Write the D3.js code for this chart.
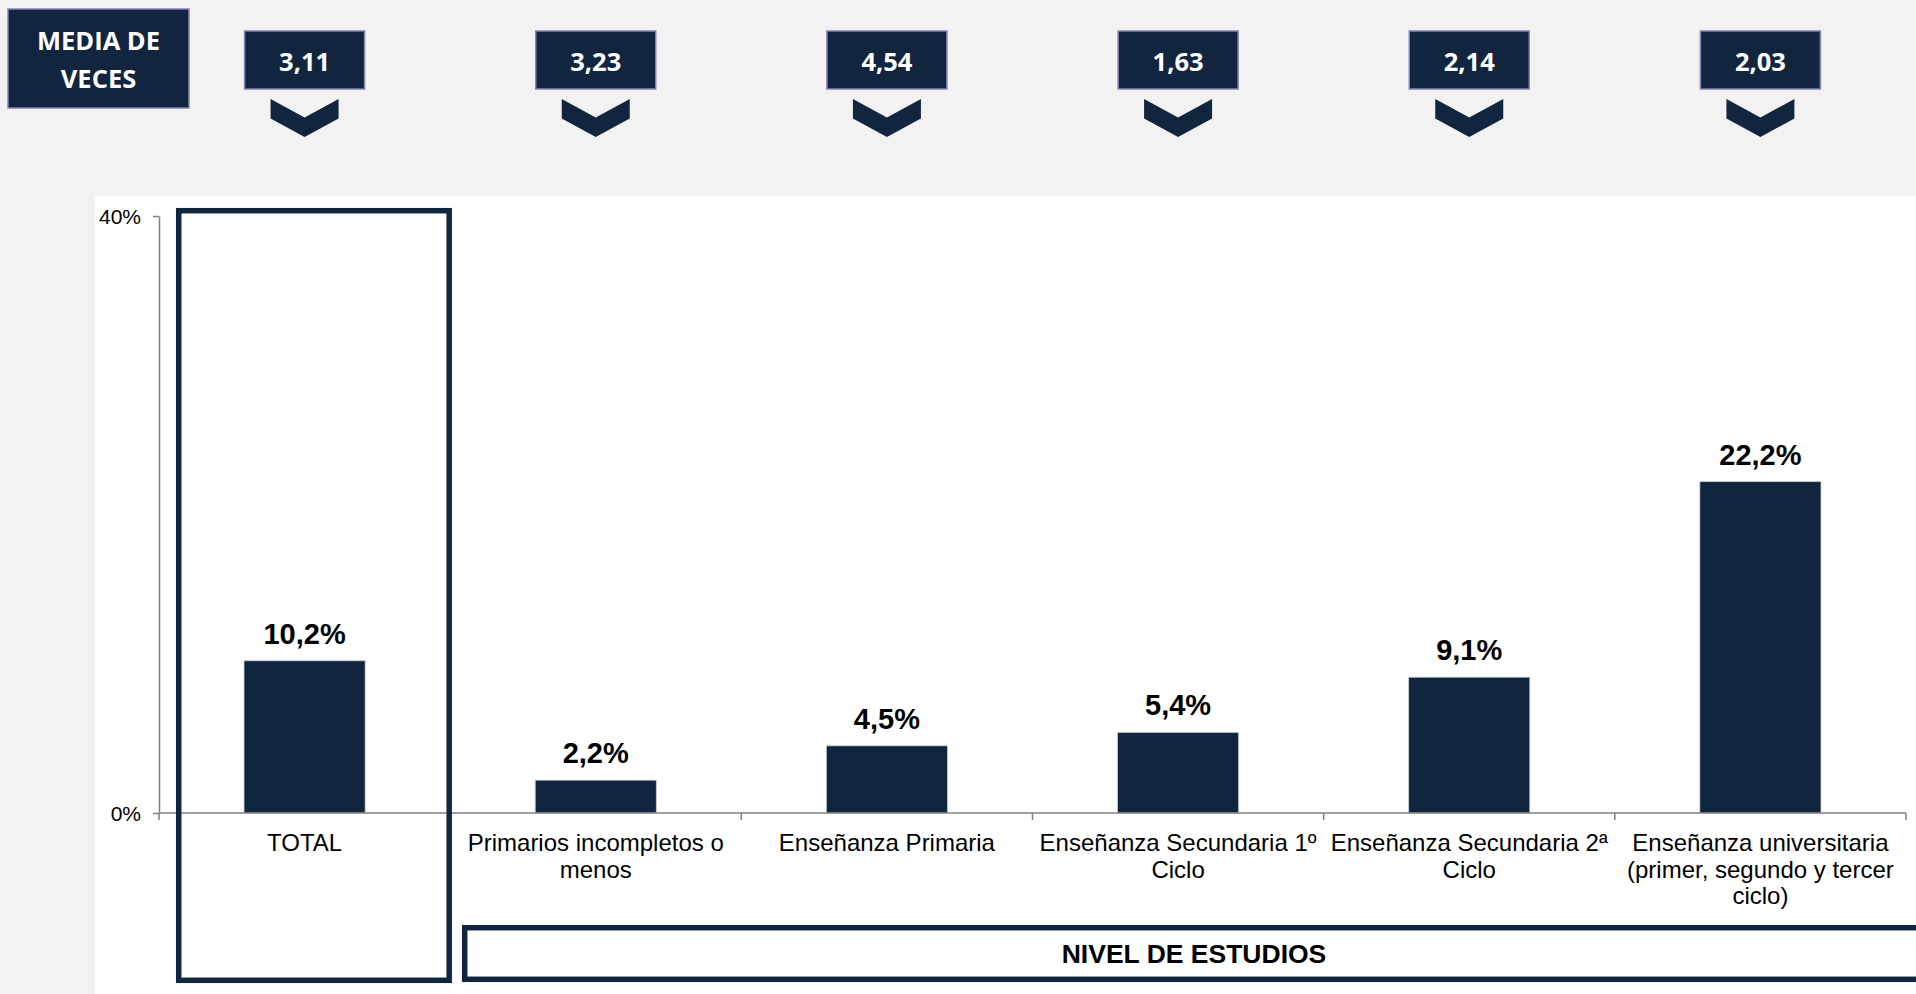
<!DOCTYPE html>
<html>
<head>
<meta charset="utf-8">
<script src="https://cdn.jsdelivr.net/npm/d3@7"></script>
<style>
  html, body { margin: 0; padding: 0; background: #f2f2f2; }
  svg { display: block; }
</style>
</head>
<body>
<svg id="chart" width="1916" height="994"></svg>
<script>
// ---- DATA ----
const categories = [
  "TOTAL",
  "Primarios incompletos o menos",
  "Enseñanza Primaria",
  "Enseñanza Secundaria 1º Ciclo",
  "Enseñanza Secundaria 2ª Ciclo",
  "Enseñanza universitaria (primer, segundo y tercer ciclo)"
];
const categoryLines = [
  ["TOTAL"],
  ["Primarios incompletos o", "menos"],
  ["Enseñanza Primaria"],
  ["Enseñanza Secundaria 1º", "Ciclo"],
  ["Enseñanza Secundaria 2ª", "Ciclo"],
  ["Enseñanza universitaria", "(primer, segundo y tercer", "ciclo)"]
];
const values = [10.2, 2.2, 4.5, 5.4, 9.1, 22.2];
const mediaVeces = [3.11, 3.23, 4.54, 1.63, 2.14, 2.03];
const yTickValues = [0, 40];
const headerLabel = ["MEDIA DE", "VECES"];
const groupLabel = "NIVEL DE ESTUDIOS";

// ---- STYLE ----
const navy = "#12253f";
const boxBorder = "#8383b8";
const fmtComma = (v, d) => v.toFixed(d).replace(".", ",");

const svg = d3.select("#chart");

// backgrounds
svg.append("rect").attr("x", 0).attr("y", 0).attr("width", 1916).attr("height", 994).attr("fill", "#f2f2f2");
svg.append("rect").attr("x", 95).attr("y", 196).attr("width", 1916 - 95).attr("height", 994 - 196).attr("fill", "#ffffff");

// scales
const x = d3.scaleBand().domain(categories).range([159, 1906]).padding(0);
const y = d3.scaleLinear().domain([0, 40]).range([813, 216]);
const barW = x.bandwidth() * 0.416;
const cx = d => x(d) + x.bandwidth() / 2;

// header box
svg.append("rect").attr("x", 8).attr("y", 9).attr("width", 181).attr("height", 99)
  .attr("fill", navy).attr("stroke", boxBorder).attr("stroke-width", 1.5);
svg.append("g").selectAll("text").data(headerLabel).join("text")
  .attr("x", 98.5).attr("y", (d, i) => 50 + i * 38)
  .attr("text-anchor", "middle").attr("fill", "#fff")
  .style("font-family", "'Open Sans', sans-serif").style("font-weight", 700).style("font-size", "25.5px")
  .text(d => d);

// value boxes + chevrons
const hdr = svg.append("g").selectAll("g").data(categories).join("g")
  .attr("transform", d => `translate(${cx(d)},0)`);
hdr.append("rect").attr("x", -60).attr("y", 31).attr("width", 120).attr("height", 58)
  .attr("fill", navy).attr("stroke", boxBorder).attr("stroke-width", 1.5);
hdr.append("text").attr("x", 0).attr("y", 71).attr("text-anchor", "middle").attr("fill", "#fff")
  .style("font-family", "'Open Sans', sans-serif").style("font-weight", 700).style("font-size", "25.5px")
  .text((d, i) => fmtComma(mediaVeces[i], 2));
hdr.append("polygon")
  .attr("points", "-34,99 0,117.5 34,99 34,118.5 0,137 -34,118.5")
  .attr("fill", navy);

// Y axis
const yAxis = d3.axisLeft(y).tickValues(yTickValues).tickFormat(d => d + "%").tickSize(6).tickSizeOuter(0).tickPadding(12);
const gy = svg.append("g").attr("transform", "translate(159,0)").call(yAxis);
gy.select(".domain").attr("stroke", "#808080").attr("stroke-width", 1.5);
gy.selectAll(".tick line").attr("stroke", "#808080").attr("stroke-width", 1.5);
gy.selectAll(".tick text").attr("fill", "#000").style("font-family", "'Liberation Sans', Arial, sans-serif").style("font-size", "21px").attr("dy", "0.35em");

// bars
svg.append("g").selectAll("rect").data(categories).join("rect")
  .attr("x", d => cx(d) - barW / 2)
  .attr("y", (d, i) => y(values[i]))
  .attr("width", barW)
  .attr("height", (d, i) => y(0) - y(values[i]))
  .attr("fill", navy).attr("stroke", "#c8ccd2").attr("stroke-width", 0.8);

// X axis
svg.append("line").attr("x1", 159).attr("x2", x.range()[1]).attr("y1", y(0)).attr("y2", y(0))
  .attr("stroke", "#808080").attr("stroke-width", 1.5);
const bounds = categories.map(d => x(d)).concat([x.range()[1]]);
svg.append("g").selectAll("line").data(bounds).join("line")
  .attr("x1", d => d).attr("x2", d => d).attr("y1", y(0)).attr("y2", y(0) + 7)
  .attr("stroke", "#808080").attr("stroke-width", 1.5);

// category labels
const lab = svg.append("g").selectAll("text").data(categories).join("text")
  .attr("text-anchor", "middle").attr("fill", "#000")
  .style("font-family", "'Liberation Sans', Arial, sans-serif").style("font-size", "24px");
lab.each(function(d, i) {
  d3.select(this).selectAll("tspan").data(categoryLines[i]).join("tspan")
    .attr("x", cx(d)).attr("y", (t, j) => y(0) + 38 + j * 26.5).text(t => t);
});

// value labels
svg.append("g").selectAll("text").data(categories).join("text")
  .attr("x", d => cx(d)).attr("y", (d, i) => y(values[i]) - 17)
  .attr("text-anchor", "middle").attr("fill", "#000")
  .style("font-family", "'Liberation Sans', Arial, sans-serif").style("font-weight", 700).style("font-size", "29px")
  .text((d, i) => fmtComma(values[i], 1) + "%");

// TOTAL frame
svg.append("rect").attr("x", 178.7).attr("y", 210.7).attr("width", 270.5).attr("height", 769.6)
  .attr("fill", "none").attr("stroke", navy).attr("stroke-width", 5.5);

// NIVEL DE ESTUDIOS frame
svg.append("rect").attr("x", 464.7).attr("y", 927.7).attr("width", 1460).attr("height", 51.6)
  .attr("fill", "none").attr("stroke", navy).attr("stroke-width", 5.5);
svg.append("text").attr("x", 1194).attr("y", 963).attr("text-anchor", "middle").attr("fill", "#000")
  .style("font-family", "'Liberation Sans', Arial, sans-serif").style("font-weight", 700).style("font-size", "26.5px")
  .text(groupLabel);
</script>
</body>
</html>
